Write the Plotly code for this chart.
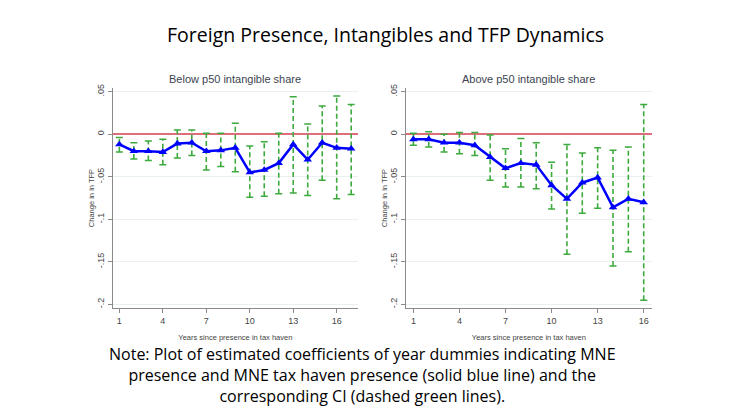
import plotly.graph_objects as go
from plotly.subplots import make_subplots

# years since presence in tax haven
years_below = list(range(1, 18))
years_above = list(range(1, 17))

# below p50 intangible share: coefficient and CI
coef_below = [-0.012, -0.020, -0.020, -0.021, -0.011, -0.010, -0.020, -0.019, -0.016,
              -0.045, -0.042, -0.034, -0.012, -0.030, -0.010, -0.016, -0.017]
upper_below = [-0.004, -0.010, -0.008, -0.006, 0.005, 0.005, 0.001, 0.001, 0.013,
               -0.014, -0.009, 0.001, 0.044, 0.012, 0.033, 0.045, 0.035]
lower_below = [-0.021, -0.029, -0.031, -0.036, -0.028, -0.025, -0.042, -0.038, -0.044,
               -0.074, -0.073, -0.070, -0.069, -0.072, -0.054, -0.076, -0.071]

# above p50 intangible share
coef_above = [-0.006, -0.006, -0.010, -0.010, -0.013, -0.027, -0.040, -0.034, -0.036,
              -0.060, -0.076, -0.057, -0.051, -0.086, -0.076, -0.080]
upper_above = [0.001, 0.003, 0.000, 0.002, 0.002, -0.001, -0.017, -0.005, -0.010,
               -0.033, -0.012, -0.022, -0.016, -0.019, -0.015, 0.035]
lower_above = [-0.013, -0.015, -0.021, -0.023, -0.025, -0.054, -0.062, -0.062, -0.064,
               -0.088, -0.141, -0.093, -0.087, -0.155, -0.138, -0.195]

panel_titles = ["Below p50 intangible share", "Above p50 intangible share"]
y_tickvals = [0.05, 0, -0.05, -0.1, -0.15, -0.2]
y_ticktext = [".05", "0", "-.05", "-.1", "-.15", "-.2"]
x_tickvals = [1, 4, 7, 10, 13, 16]

W, H = 730, 410
OFF = 8  # page body margin
GREEN = "rgb(60,170,60)"
BLUE = "rgb(0,0,255)"
GREY = "#444444"


def px(x):
    return (x - OFF) / W


def py(y):
    return 1 - (y - OFF) / H


def ci_segments(xs, lo, hi):
    '''build x/y lists with None gaps for the vertical CI lines'''
    sx, sy = [], []
    for x, a, b in zip(xs, lo, hi):
        sx += [x, x, None]
        sy += [a, b, None]
    return sx, sy


fig = make_subplots(rows=1, cols=2)

panels = [(years_below, coef_below, lower_below, upper_below),
          (years_above, coef_above, lower_above, upper_above)]
for i, (xs, coef, lo, hi) in enumerate(panels):
    col = i + 1
    sx, sy = ci_segments(xs, lo, hi)
    fig.add_trace(go.Scatter(x=sx, y=sy, mode="lines",
                             line=dict(color=GREEN, width=1.6, dash="5px,3px"),
                             showlegend=False, hoverinfo="skip"), row=1, col=col)
    # caps at both ends
    fig.add_trace(go.Scatter(x=xs + xs, y=lo + hi, mode="markers",
                             marker=dict(symbol="line-ew", size=5,
                                         line=dict(color=GREEN, width=1.5)),
                             showlegend=False, hoverinfo="skip"), row=1, col=col)
    fig.add_trace(go.Scatter(x=xs, y=coef, mode="lines+markers",
                             line=dict(color=BLUE, width=2.5),
                             marker=dict(symbol="triangle-up", size=7.5, color=BLUE),
                             showlegend=False), row=1, col=col)

# pixel layout of the two plot areas
left_dom = [px(112.7), px(358)]
right_dom = [px(405.7), px(652)]
y_dom = [py(306.7), py(85)]

axis_common = dict(showline=True, linecolor="#8a8a8a", linewidth=1,
                   ticks="outside", ticklen=4, tickcolor="#8a8a8a",
                   tickfont=dict(family="Arial, Liberation Sans", size=9, color=GREY))

for col, dom, xr in [(1, left_dom, [0.54, 17.47]), (2, right_dom, [0.5, 16.54])]:
    fig.update_xaxes(domain=dom, range=xr, tickvals=x_tickvals, showgrid=False,
                     zeroline=False,
                     title=dict(text="Years since presence in tax haven", standoff=10,
                                font=dict(family="Arial, Liberation Sans", size=7.5,
                                          color=GREY)),
                     row=1, col=col, **axis_common)
    fig.update_yaxes(domain=y_dom, range=[-0.204, 0.054], tickvals=y_tickvals,
                     ticktext=y_ticktext, tickangle=-90,
                     showgrid=True, gridcolor="rgb(232,240,242)", gridwidth=1,
                     zeroline=True, zerolinecolor="rgb(222,110,122)", zerolinewidth=1.5,
                     title=dict(text="Change in ln TFP", standoff=0,
                                font=dict(family="Arial, Liberation Sans", size=7.5,
                                          color=GREY)),
                     row=1, col=col, **axis_common)

annotations = [
    dict(text="Foreign Presence, Intangibles and TFP Dynamics", x=px(385), y=py(31),
         font=dict(family="Open Sans", size=19.5, color="black")),
    dict(text=panel_titles[0], x=px(235), y=py(76),
         font=dict(family="Arial, Liberation Sans", size=11, color="#3c4450")),
    dict(text=panel_titles[1], x=px(528), y=py(76),
         font=dict(family="Arial, Liberation Sans", size=11, color="#3c4450")),
    dict(text="Note: Plot of estimated coefficients of year dummies indicating MNE<br>"
              "presence and MNE tax haven presence (solid blue line) and the<br>"
              "corresponding CI (dashed green lines).",
         x=px(362), y=py(375),
         font=dict(family="Open Sans", size=16, color="black")),
]
for a in annotations:
    a.update(xref="paper", yref="paper", showarrow=False, xanchor="center", yanchor="middle")

fig.update_layout(width=W, height=H, margin=dict(l=0, r=0, t=0, b=0),
                  paper_bgcolor="white", plot_bgcolor="white",
                  annotations=annotations, showlegend=False)

fig.write_html("out.html")
